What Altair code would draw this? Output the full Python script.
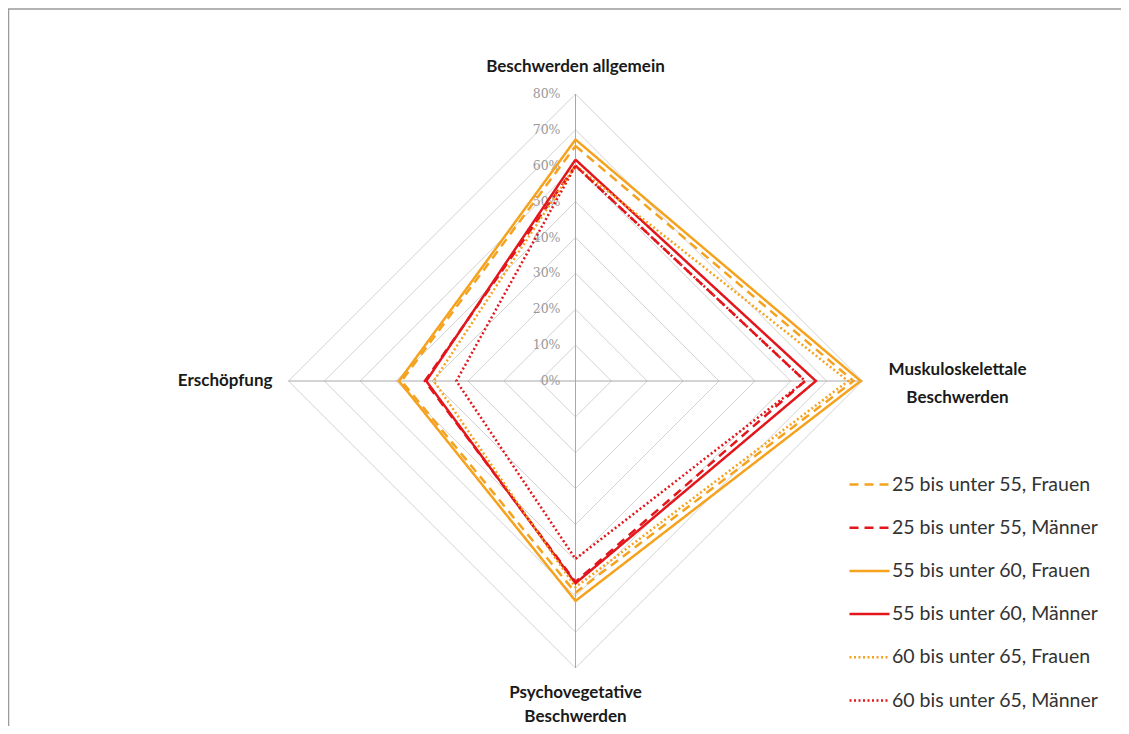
import altair as alt
import pandas as pd

# ---- data -------------------------------------------------------------
axes_names = ["Beschwerden allgemein", "Muskuloskelettale\nBeschwerden",
              "Psychovegetative\nBeschwerden", "Erschöpfung"]
series = ["25 bis unter 55, Frauen", "25 bis unter 55, Männer",
          "55 bis unter 60, Frauen", "55 bis unter 60, Männer",
          "60 bis unter 65, Frauen", "60 bis unter 65, Männer"]
# values per series in axis order: allgemein, Muskulo, Psychoveg, Erschöpfung
v_25_55_f = [65.5, 77.5, 59.0, 48.5]
v_25_55_m = [60.0, 64.0, 56.0, 42.0]
v_55_60_f = [67.3, 79.5, 61.3, 49.2]
v_55_60_m = [61.7, 67.0, 56.4, 41.6]
v_60_65_f = [60.0, 76.0, 57.5, 39.5]
v_60_65_m = [60.0, 64.0, 49.6, 33.2]
values = [v_25_55_f, v_25_55_m, v_55_60_f, v_55_60_m, v_60_65_f, v_60_65_m]
levels = [0, 10, 20, 30, 40, 50, 60, 70, 80]
tick_labels = ["0%", "10%", "20%", "30%", "40%", "50%", "60%", "70%", "80%"]
max_level = 80

colors = ["#F5A21E", "#E3161C", "#F5A21E", "#E3161C", "#F5A21E", "#E3161C"]
dashes = [[9, 6], [9, 6], [1, 0], [1, 0], [2, 2.5], [2, 2.5]]

# unit direction of each axis: top, right, bottom, left
dirs = [(0, 1), (1, 0), (0, -1), (-1, 0)]

# ---- tables -----------------------------------------------------------
rows = []
for s, vals in zip(series, values):
    for i in range(5):
        k = i % 4
        dx, dy = dirs[k]
        rows.append({"series": s, "x": dx * vals[k], "y": dy * vals[k], "o": i})
df_series = pd.DataFrame(rows)

grid_rows = []
for L in levels[1:]:
    for i in range(5):
        dx, dy = dirs[i % 4]
        grid_rows.append({"level": L, "x": dx * L, "y": dy * L, "o": i})
df_grid = pd.DataFrame(grid_rows)

df_spokes = pd.DataFrame({"x": [0, -max_level], "y": [-max_level, 0],
                          "x2": [0, max_level], "y2": [max_level, 0]})
df_ticks = pd.DataFrame({"x": [0] * len(levels), "y": levels, "t": tick_labels})
df_cat = pd.DataFrame({"name": axes_names,
                       "x": [d[0] * max_level for d in dirs],
                       "y": [d[1] * max_level for d in dirs]})

# ---- layout: full-page view, 287 px per 80 % ---------------------------
W, H = 1113, 718
ppu = 287 / 80.0
cx, cy = 567.5, 373.0
xdom = [-cx / ppu, (W - cx) / ppu]
ydom = [-(H - cy) / ppu, cy / ppu]
X = alt.Scale(domain=xdom, nice=False, zero=False)
Y = alt.Scale(domain=ydom, nice=False, zero=False)


def xe(f="x"):
    return alt.X(f"{f}:Q", scale=X, axis=None)


def ye(f="y"):
    return alt.Y(f"{f}:Q", scale=Y, axis=None)


grid = alt.Chart(df_grid).mark_line(color="#D2D2D2", strokeWidth=1).encode(
    x=xe(), y=ye(), detail="level:N", order="o:Q")

spokes = alt.Chart(df_spokes).mark_rule(color="#A8A8A8", strokeWidth=1).encode(
    x=xe(), y=ye(), x2="x2:Q", y2="y2:Q")

ticks = alt.Chart(df_ticks).mark_text(
    align="right", baseline="middle", dx=-15, font="DejaVu Serif",
    fontSize=12.5, color="#999999").encode(x=xe(), y=ye(), text="t:N")

legend = alt.Legend(title=None, orient="none", legendX=840, legendY=455,
                    symbolType="stroke", symbolSize=1600, symbolStrokeWidth=2.5,
                    labelFont="Lato", labelFontSize=19.5, labelColor="#333333",
                    rowPadding=12.2, labelOffset=1, padding=0, labelLimit=400)

lines = alt.Chart(df_series).mark_line(strokeWidth=2.5, strokeJoin="miter").encode(
    x=xe(), y=ye(), order="o:Q",
    color=alt.Color("series:N", scale=alt.Scale(domain=series, range=colors),
                    legend=legend, sort=series),
    strokeDash=alt.StrokeDash("series:N", scale=alt.Scale(domain=series, range=dashes),
                              legend=legend, sort=series),
)

cat_style = dict(font="Lato", fontSize=17, fontWeight="bold", color="#1A1A1A",
                 lineBreak="\n")
cat_top = alt.Chart(df_cat.iloc[[0]]).mark_text(
    align="center", baseline="middle", dy=-27, lineHeight=28, **cat_style).encode(
    x=xe(), y=ye(), text="name:N")
cat_right = alt.Chart(df_cat.iloc[[1]]).mark_text(
    align="center", baseline="middle", dx=95, dy=-11, lineHeight=28, **cat_style).encode(
    x=xe(), y=ye(), text="name:N")
cat_bottom = alt.Chart(df_cat.iloc[[2]]).mark_text(
    align="center", baseline="middle", dy=25, lineHeight=24, **cat_style).encode(
    x=xe(), y=ye(), text="name:N")
cat_left = alt.Chart(df_cat.iloc[[3]]).mark_text(
    align="right", baseline="middle", dx=-16, lineHeight=28, **cat_style).encode(
    x=xe(), y=ye(), text="name:N")

frame_top = alt.Chart(pd.DataFrame({"k": [0]})).mark_rule(
    color="#9A9A9A", strokeWidth=1.5).encode(
    x=alt.value(0), x2=alt.value(W), y=alt.value(1))
frame_left = alt.Chart(pd.DataFrame({"k": [0]})).mark_rule(
    color="#9A9A9A", strokeWidth=1.5).encode(
    x=alt.value(0.5), y=alt.value(1), y2=alt.value(H))

chart = alt.layer(frame_top, frame_left, grid, spokes, ticks, lines,
                  cat_top, cat_right, cat_bottom, cat_left).properties(
    width=W, height=H, autosize=alt.AutoSizeParams(type="none"), padding=0,
    background="white",
).configure_view(stroke=None).configure_legend(
    labelFont="Lato", labelFontSize=19.5, labelColor="#333333",
    symbolType="stroke", symbolSize=1600, symbolStrokeWidth=2.5,
    rowPadding=12.2, labelOffset=1, padding=0, labelLimit=400)

chart.save("out.html", embed_options={"renderer": "svg", "actions": False})
